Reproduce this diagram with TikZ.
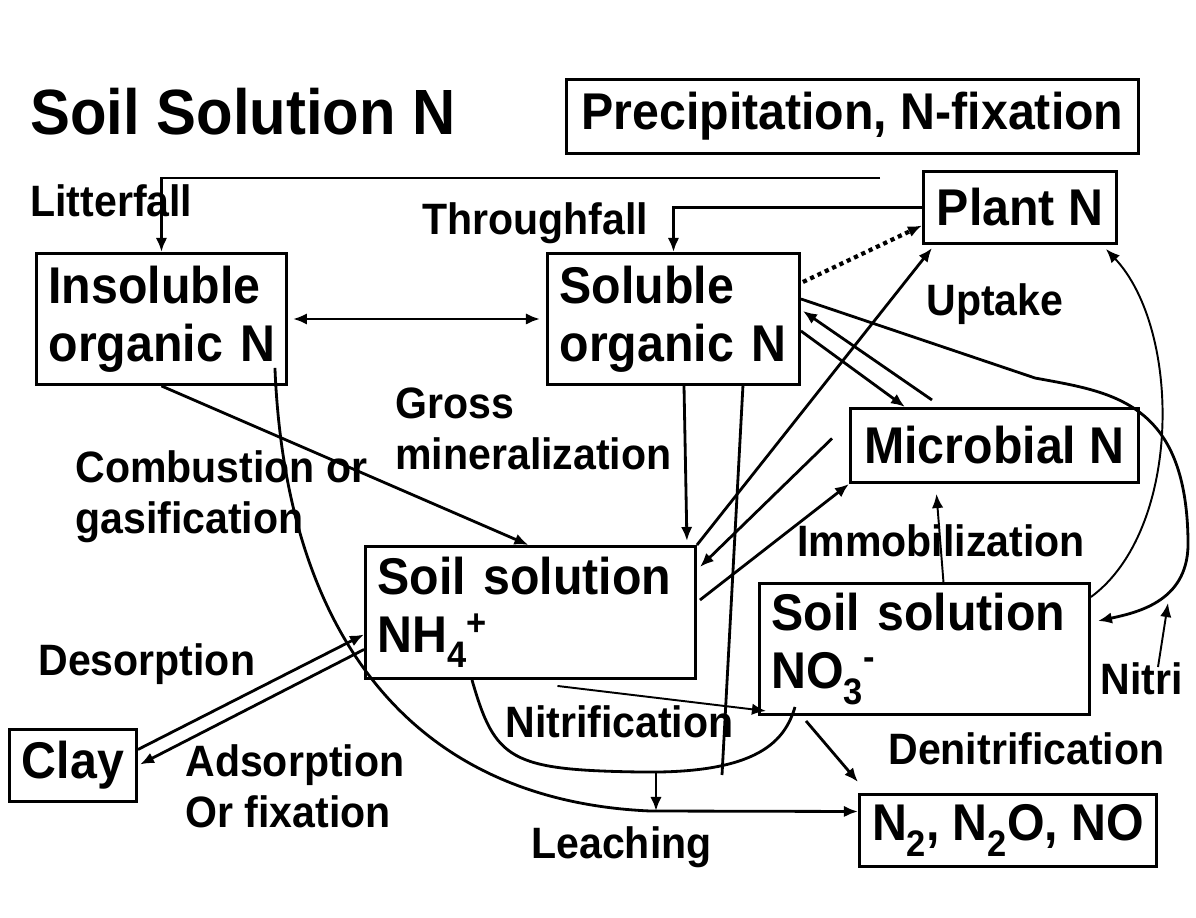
\documentclass[tikz,border=0pt]{standalone}
\usepackage{fontspec}
\setmainfont[FakeStretch=0.935]{Liberation Sans}
\usetikzlibrary{arrows.meta}
\usetikzlibrary{calc}

\newcommand{\boxfont}{\fontsize{29.4}{33}\selectfont\bfseries}
\newcommand{\lblfont}{\fontsize{25}{29}\selectfont\bfseries}
\newcommand{\titlefont}{\fontsize{36.4}{40}\selectfont\bfseries}
\newcommand{\lowidx}[1]{\raisebox{-0.3em}{\fontsize{21}{20}\selectfont #1}}
\newcommand{\highidx}[2][0.32em]{\raisebox{#1}{\fontsize{21}{20}\selectfont #2}}

\begin{document}
\begin{tikzpicture}[
    >={Latex[length=8pt,width=6.5pt]},
    line join=miter,
    x=0.02cm,
    y=-0.02cm
]

% =========================================================
% Styles
% =========================================================
\tikzset{
    box/.style={draw,line width=1.7pt,inner sep=0pt,anchor=north west,font=\boxfont},
    twobox/.style={box,align=left,inner xsep=0.24cm},
    lbl/.style={anchor=base west,inner sep=0pt,align=left,font=\lblfont},
    flow/.style={->,line width=1.6pt},
    thinflow/.style={->,line width=1.1pt},
    link/.style={line width=1.6pt},
    dotflow/.style={->,line width=2.4pt,dash pattern=on 2.4pt off 2.2pt}
}

\useasboundingbox (0,0) rectangle (1196,918);

% =========================================================
% Pools
% =========================================================
\node[box,minimum width=11.44cm,minimum height=1.48cm] (precip) at (565,78) {Precipitation, N-fixation};
\node[box,minimum width=3.86cm,minimum height=1.44cm] (plant) at (922,170) {Plant N};
\node[twobox,text width=4.52cm,minimum width=5cm,minimum height=2.62cm] (insol) at (35,252) {Insoluble\\organic~N};
\node[twobox,text width=4.56cm,minimum width=5.04cm,minimum height=2.62cm] (sol) at (546,252) {Soluble\\organic~N};
\node[box,minimum width=5.76cm,minimum height=1.48cm] (micro) at (849,407) {Microbial N};
\node[twobox,text width=6.12cm,minimum width=6.6cm,minimum height=2.64cm] (nhfour) at (364,545) {Soil solution\\NH\lowidx{4}\highidx{+}};
\node[twobox,text width=6.12cm,minimum width=6.6cm,minimum height=2.62cm] (nothree) at (758,582) {Soil solution\\NO\lowidx{3}\highidx[0.38em]{-}};
\node[box,minimum width=2.54cm,minimum height=1.44cm] (clay) at (8,728) {Clay};
\node[box,minimum width=5.94cm,minimum height=1.44cm] (gas) at (858,793) {N\lowidx{2}, N\lowidx{2}O, NO};

% =========================================================
% Labels
% =========================================================
\node[lbl,font=\titlefont] (title) at (30,135) {Soil Solution N};
\node[lbl] (litter) at (30,217) {Litterfall};
\node[lbl] (through) at (422,235) {Throughfall};
\node[lbl] (uptake) at (926,316) {Uptake};
\node[lbl,anchor=west] (grossmin) at (395,429) {Gross\\mineralization};
\node[lbl,anchor=west] (combust) at (75,497) {Combustion or\\gasification};
\node[lbl] (immob) at (797,556) {Immobilization};
\node[lbl] (desorp) at (38,675) {Desorption};
\node[lbl] (nitrif) at (505,737) {Nitrification};
\node[lbl] (nitri) at (1100,694) {Nitri};
\node[lbl] (denit) at (888,764) {Denitrification};
\node[lbl,anchor=west] (adsorp) at (185,786) {Adsorption\\Or fixation};
\node[lbl] (leach) at (531,858) {Leaching};

% =========================================================
% Fluxes
% =========================================================
% litterfall, throughfall
\coordinate (litend) at (880,178);
\draw[flow] (litend) -| (insol.north);
\draw[flow] (plant.west) -| (sol.north);
\draw[dotflow] ($(sol.east)+(2,-37)$) -- ($(plant.west)+(0,18)$);

% organic pools
\draw[flow,<->] ($(insol.east)+(5,0)$) -- ($(sol.west)+(-6,0)$);
\draw[flow] (insol.south) -- ($(nhfour.north)+(-2,0)$);
\draw[flow] ($(sol.south west)+(138,0)$) -- ($(nhfour.north east)+(-10,-4)$);

% uptake and immobilization
\draw[flow] (nhfour.north east) -- ($(plant.south west)+(10,3)$);
\draw[flow] ($(micro.west)+(-17,-7)$) -- ($(nhfour.north east)+(3,22)$);
\draw[flow] ($(nhfour.north east)+(3,55)$) -- (micro.south west);
\draw[flow] ($(sol.east)+(0,12)$) -- ($(micro.north west)+(56,0)$);
\draw[flow] ($(micro.north west)+(83,-7)$) -- ($(sol.east)+(2,-8)$);
\draw[thinflow] ($(nothree.north)+(19,0)$) -- ($(micro.south)+(-58,10)$);
\draw[flow] ($(sol.east)+(0,-20)$) -- (1035,378)
    .. controls (1110,392) and (1186,400) .. (1188,540)
    .. controls (1190,600) and (1140,612) .. ($(nothree.east)+(7,-28)$);
\draw[thinflow] ($(nothree.north east)+(0,15)$)
    .. controls (1182,530) and (1182,330) .. ($(plant.south east)+(-12,4)$);
\coordinate (nitrilow) at (1158,667);
\draw[thinflow] (nitrilow) -- ++(10,-64);

% clay exchange
\draw[flow] ($(clay.east)+(0,-16)$) -- ($(nhfour.west)+(0,22)$);
\draw[flow] ($(nhfour.west)+(0,37)$) -- ($(clay.east)+(2,-1)$);

% nitrification, denitrification, leaching
\draw[thinflow] ($(nhfour.south)+(27,6)$) -- ($(nothree.south west)+(8,-5)$);
\draw[flow] ($(nothree.south west)+(48,5)$) -- ($(gas.north west)+(0,-11)$);
\draw[link] ($(nhfour.south west)+(108,0)$)
    .. controls (495,760) and (510,770) .. (640,772)
    .. controls (760,774) and (785,740) .. ($(nothree.south west)+(37,-9)$);
\coordinate (solleach) at (722,775);
\draw[link] ($(sol.south east)+(-58,0)$) -- (solleach);
\draw[flow] ($(insol.south east)+(-13,-18)$)
    .. controls (285,620) and (400,800) .. (650,811) -- ($(gas.west)+(0,-19)$);
\coordinate (leachtop) at (656,773);
\draw[flow] (leachtop) -- ++(0,38);

\end{tikzpicture}
\end{document}
